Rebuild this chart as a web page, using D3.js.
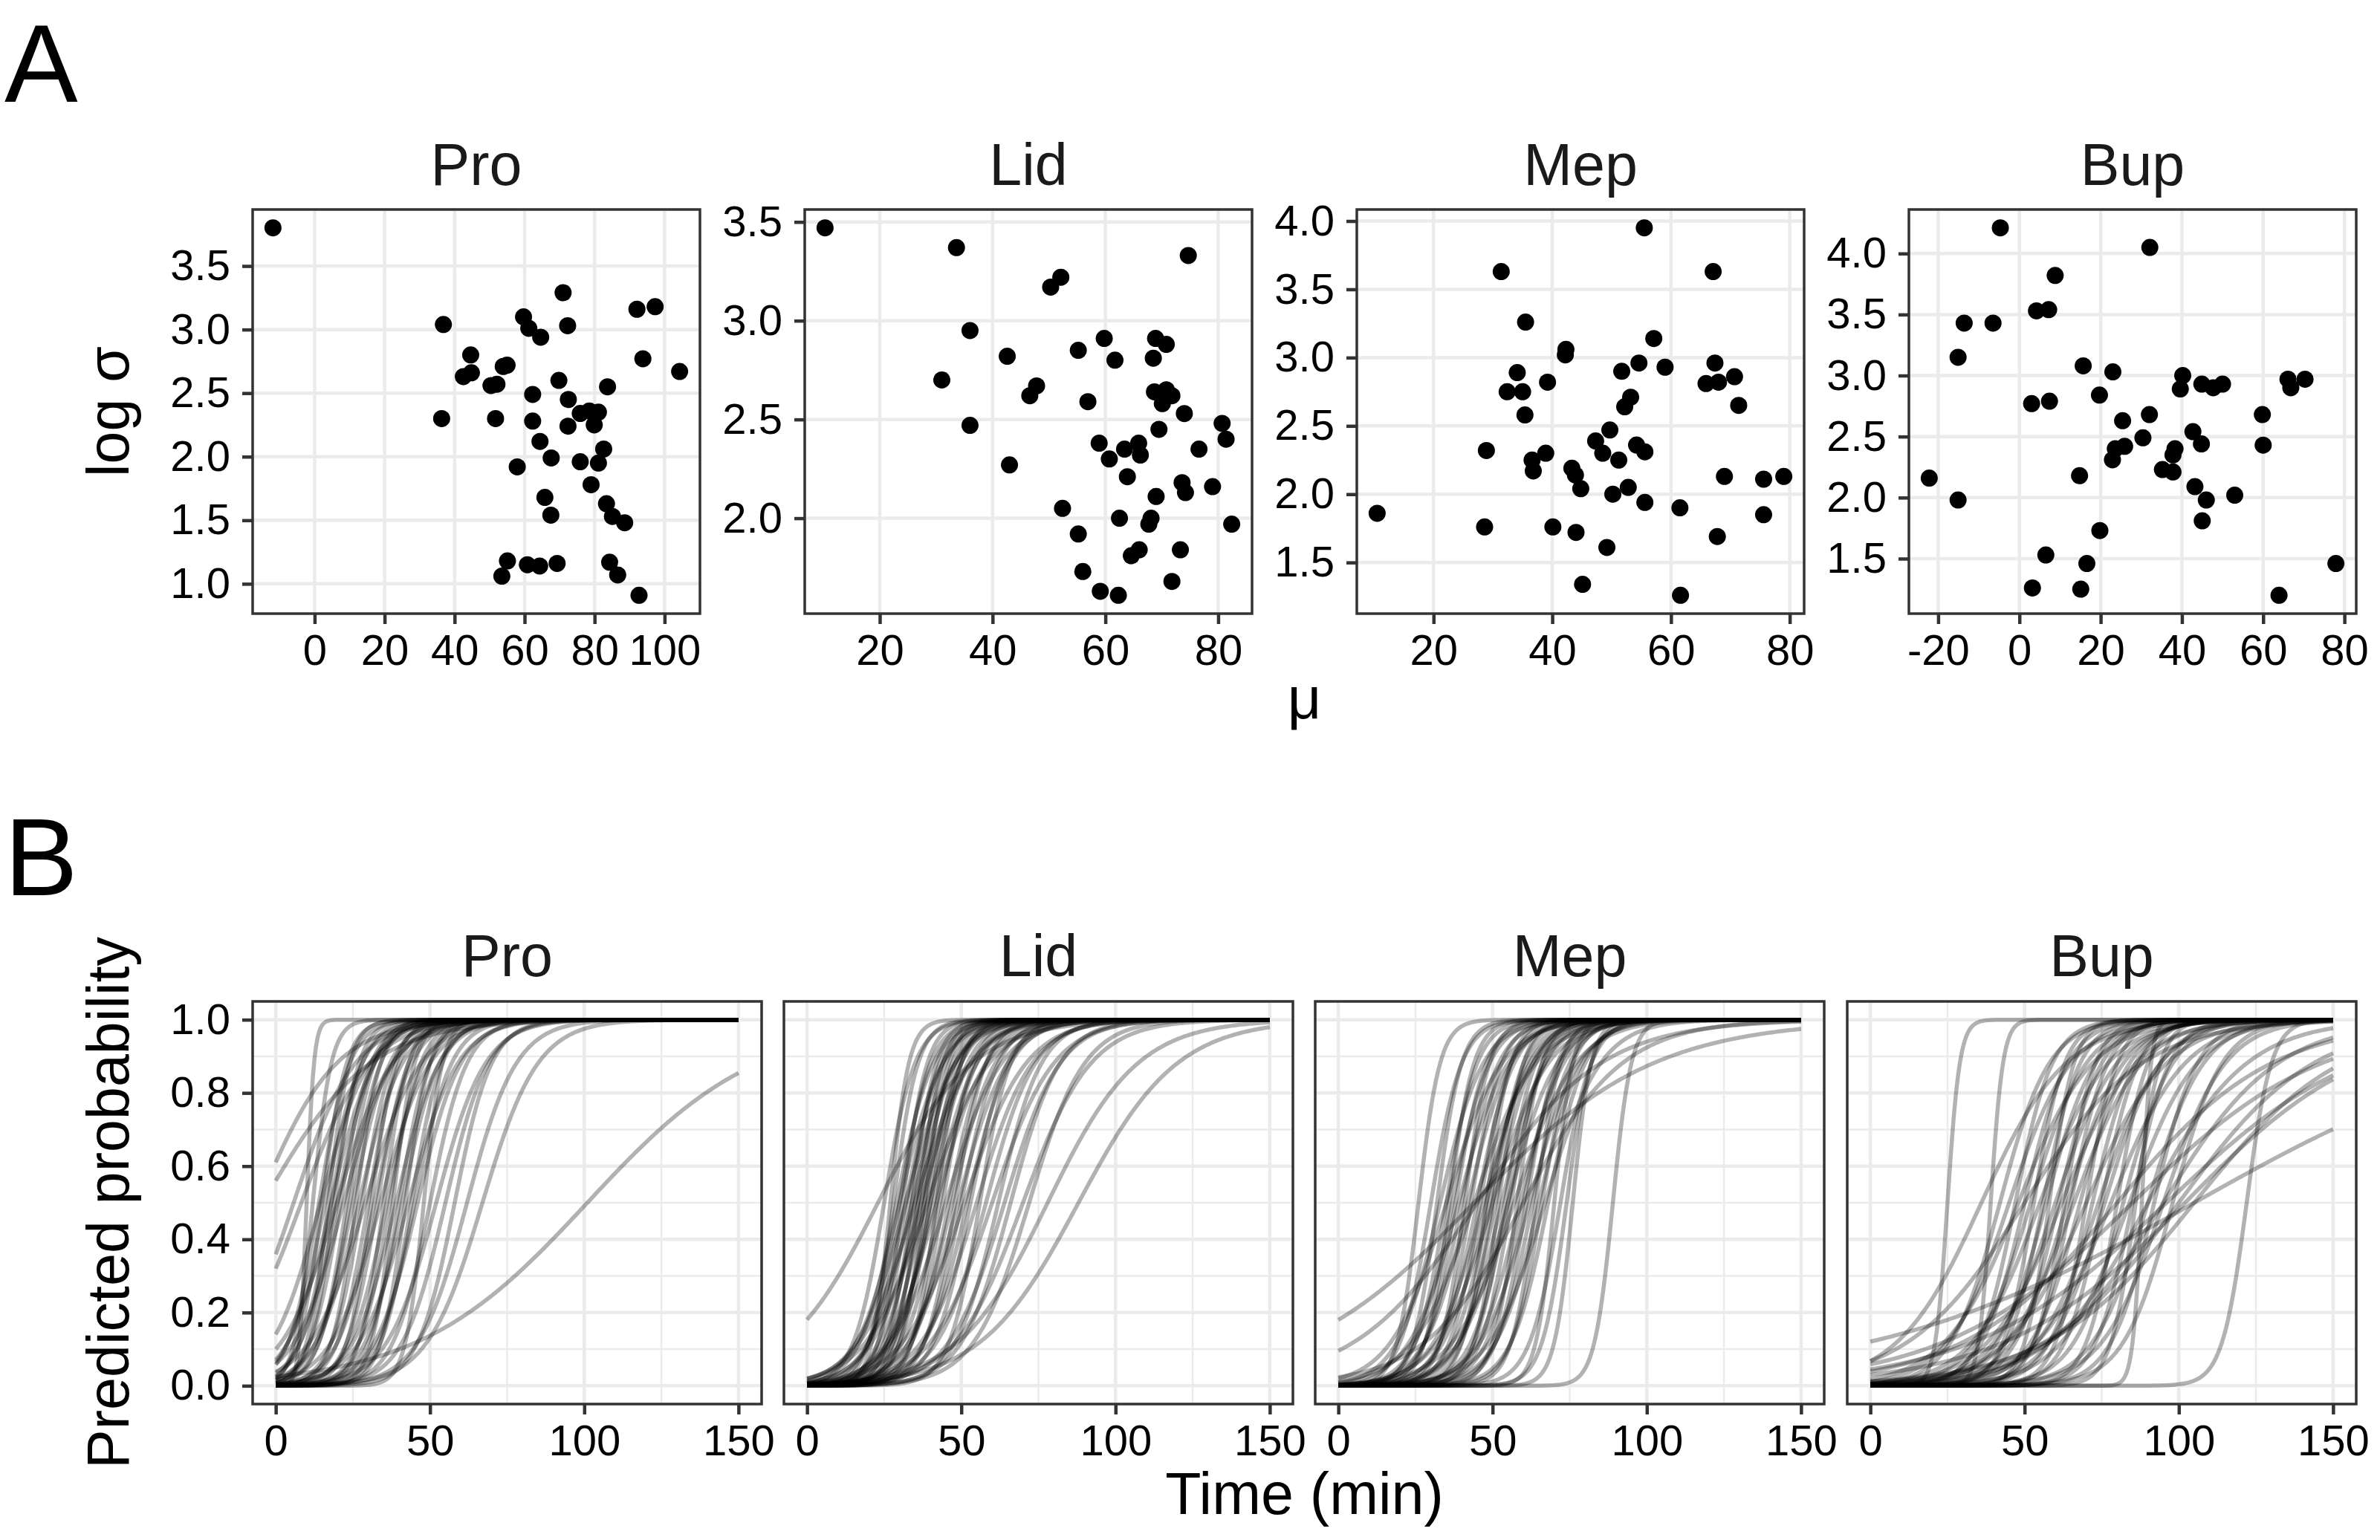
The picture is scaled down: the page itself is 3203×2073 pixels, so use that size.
<!DOCTYPE html>
<html>
<head>
<meta charset="utf-8">
<script src="https://cdn.jsdelivr.net/npm/d3@7"></script>
<style>
  body { margin: 0; background: #fff; }
  svg { display: block; }
</style>
</head>
<body>
<div id="chart"></div>
<script>
// Panel A: per-subject estimates (mu, log sigma)
const proMu = [-11.9,36.8,36.3,44.6,42.5,44.8,50.4,52.1,51.7,53.9,55.0,59.7,61.2,64.6,71.0,72.3,62.3,62.3,69.8,72.5,64.4,67.6,57.9,72.4,75.9,78.5,81.1,79.9,83.7,75.9,81.1,82.6,79.0,65.8,67.5,83.4,85.1,88.6,55.1,53.5,60.8,64.3,69.3,84.3,86.6,92.7,92.1,97.3,93.8,104.3];
const proLogSigma = [3.80,3.04,2.30,2.80,2.63,2.66,2.56,2.57,2.30,2.71,2.72,3.10,3.01,2.94,3.29,3.03,2.49,2.28,2.60,2.45,2.12,1.99,1.92,2.24,2.34,2.36,2.35,2.25,2.55,1.96,1.95,2.06,1.78,1.68,1.54,1.63,1.53,1.48,1.18,1.06,1.15,1.14,1.16,1.17,1.07,0.91,3.16,3.18,2.77,2.67];

const lidMu = [10.3,33.6,50.3,52.1,74.7,36.0,31.0,36.0,42.6,46.6,47.8,43.0,55.2,59.8,61.7,56.9,68.9,70.8,68.5,68.7,70.8,71.8,70.1,74.0,69.5,80.7,81.4,58.9,63.4,65.9,66.2,60.7,76.6,63.9,73.6,74.2,79.0,69.0,52.4,62.5,68.1,67.7,82.4,55.2,66.0,64.6,73.3,56.0,71.8,59.1,62.3];
const lidLogSigma = [3.47,3.37,3.17,3.22,3.33,2.95,2.70,2.47,2.82,2.62,2.67,2.27,2.85,2.91,2.80,2.59,2.91,2.88,2.81,2.64,2.65,2.62,2.58,2.53,2.45,2.48,2.40,2.38,2.35,2.38,2.32,2.30,2.35,2.21,2.18,2.13,2.16,2.11,2.05,2.00,2.00,1.97,1.97,1.92,1.84,1.81,1.84,1.73,1.68,1.63,1.61];

const mepMu = [10.5,31.4,55.5,67.1,35.5,57.1,42.3,42.2,34.1,32.4,35.0,39.2,35.4,51.7,54.6,59.0,67.4,65.9,68.0,70.7,71.4,53.2,52.2,28.9,38.9,36.6,36.8,47.3,49.7,48.5,51.2,54.2,55.6,43.3,43.9,44.8,50.2,52.8,55.6,61.5,69.0,75.6,79.0,75.6,28.6,40.1,44.0,49.2,67.8,45.1,61.6];
const mepLogSigma = [1.86,3.63,3.95,3.63,3.26,3.14,3.06,3.02,2.89,2.75,2.75,2.82,2.58,2.90,2.96,2.93,2.96,2.81,2.82,2.86,2.65,2.71,2.64,2.32,2.30,2.25,2.17,2.39,2.47,2.30,2.25,2.36,2.31,2.19,2.14,2.04,2.00,2.05,1.94,1.90,2.13,2.11,2.13,1.85,1.76,1.76,1.72,1.61,1.69,1.34,1.26];

const bupMu = [-22.2,-15.1,-15.1,-13.6,-6.5,-4.7,32.1,8.8,4.2,7.2,3.0,7.4,15.7,23.0,19.7,25.4,32.0,30.4,23.6,25.9,22.9,40.2,39.6,44.9,47.7,50.0,38.3,37.8,35.2,37.8,42.7,44.8,43.2,46.0,45.0,53.0,59.8,60.0,66.1,66.8,70.3,14.8,19.8,6.5,16.6,3.2,15.1,63.9,77.9];
const bupLogSigma = [2.16,1.98,3.15,3.43,3.43,4.21,4.05,3.82,3.53,3.54,2.77,2.79,3.08,3.03,2.84,2.63,2.68,2.49,2.40,2.42,2.31,3.00,2.89,2.93,2.90,2.93,2.40,2.35,2.23,2.21,2.54,2.44,2.09,1.98,1.81,2.02,2.68,2.43,2.97,2.90,2.97,2.18,1.73,1.53,1.46,1.26,1.25,1.20,1.46];

// Panel B: curve midpoints (min) and widths
const proMid = [-5.7,-4.2,5.8,8.3,14.5,19.8,10,101,12,14,15,16,17,18,18,19,20,21,22,23,24,25,26,27,28,29,30,31,32,33,34,35,36,37,38,39,40,41,42,43,44,45,46,48,50,52,55,58,62,67];
const proScale = [12.7,17.4,10,11,8,9,1.2,27.7,3,5,4,6,3.5,5,7,4,6,5,8,4.5,5,6,4,7,5,9,5,4,6,5,8,4,6,5,3.5,7,5,6,4,8,5,6,7,3,6,8,7,6,8,9];

const lidMid = [23,88,78,27,25,28,29,30,30,31,32,32,33,34,34,35,35,36,36,37,37,38,38,39,39,40,40,41,42,42,43,44,45,46,47,48,49,50,51,52,53,55,56,58,60,62,64,66,70,72];
const lidScale = [15.2,16,14.6,3,5,4,6,5,7,4,6,8,5,4,7,5,9,4,6,5,8,4,6,5,10,6,5,7,4,8,6,5,9,6,7,5,8,6,10,7,6,9,5,8,10,7,9,8,11,9];

const mepMid = [44,60,45,89,26,30,32,33,35,35,36,37,38,39,40,41,42,43,44,45,46,47,48,48,49,50,50,51,52,53,54,55,55,56,57,58,59,60,61,62,63,64,65,66,67,68,70,72,74,76];
const mepScale = [29,16,20,3,3.5,5,4,7,5,9,4,6,5,8,6,4,7,5,10,6,5,8,4,7,6,5,9,6,4,7,5,8,6,5,10,4,7,6,5,8,6,4,7,5,9,6,3,5,4,3];

const bupMid = [25,39,88,122,50,36,90,95,80,100,85,105,96,102,105,42,45,47,48,50,52,53,55,56,57,58,60,61,62,63,64,65,66,68,70,70,72,74,75,76,78,80,82,84,85,86,90,92,95,98];
const bupScale = [2,2,1.5,4,19,13.7,16,18.5,25,21.8,30.6,24,31.4,29.3,52.8,8,10,6,12,7,9,5,11,6,8,4,10,7,12,5,9,6,11,8,5,13,7,10,6,9,12,5,8,11,6,4,9,7,10,8];

// Categories and tick labels
const drugs = ["Pro", "Lid", "Mep", "Bup"];
const muTicks = [-20, 0, 20, 40, 60, 80, 100];
const logSigmaTicks = [1.0, 1.5, 2.0, 2.5, 3.0, 3.5, 4.0];
const timeTicks = [0, 50, 100, 150];
const timeMinor = [25, 75, 125];
const probTicks = [0, 0.2, 0.4, 0.6, 0.8, 1.0];
const probMinor = [0.1, 0.3, 0.5, 0.7, 0.9];

const muData = [proMu, lidMu, mepMu, bupMu];
const sigmaData = [proLogSigma, lidLogSigma, mepLogSigma, bupLogSigma];
const midData = [proMid, lidMid, mepMid, bupMid];
const scaleData = [proScale, lidScale, mepScale, bupScale];

// Layout
const W = 3203, H = 2073;
const FONT = '"Liberation Sans", Arial, Helvetica, sans-serif';
const aTop = 282, aBottom = 826, aWidth = 602;
const aLefts = [340, 1083, 1826, 2569];
const bTop = 1348, bBottom = 1890, bWidth = 685;
const bLefts = [340, 1055, 1770, 2486];

const svg = d3.select("#chart")
    .append("svg")
    .attr("width", W)
    .attr("height", H)
    .style("font-family", FONT);

svg.append("rect").attr("width", W).attr("height", H).attr("fill", "#fff");

// ggplot-style 5% expansion of the data range
function expand(ext) {
    const d = (ext[1] - ext[0]) * 0.05;
    return [ext[0] - d, ext[1] + d];
}

function inDomain(scale, values) {
    const [a, b] = scale.domain();
    return values.filter(v => v >= Math.min(a, b) && v <= Math.max(a, b));
}

function styleAxis(ax) {
    ax.select(".domain").remove();
    ax.selectAll(".tick line").attr("stroke", "#333333").attr("stroke-width", 4.5);
    ax.selectAll(".tick text").attr("fill", "#000").style("font-size", "58px").style("font-family", FONT);
}

// grid, and axes for one facet
function drawFrame(g, x, y, xt, yt, xm, ym, fmtX, fmtY, showY) {
    const [x0, x1] = x.range();
    const [y0, y1] = y.range();
    const grid = g.append("g");
    xm.forEach(v => grid.append("line").attr("x1", x(v)).attr("x2", x(v)).attr("y1", y0).attr("y2", y1)
        .attr("stroke", "#ebebeb").attr("stroke-width", 2.5));
    ym.forEach(v => grid.append("line").attr("x1", x0).attr("x2", x1).attr("y1", y(v)).attr("y2", y(v))
        .attr("stroke", "#ebebeb").attr("stroke-width", 2.5));
    xt.forEach(v => grid.append("line").attr("x1", x(v)).attr("x2", x(v)).attr("y1", y0).attr("y2", y1)
        .attr("stroke", "#ebebeb").attr("stroke-width", 4.5));
    yt.forEach(v => grid.append("line").attr("x1", x0).attr("x2", x1).attr("y1", y(v)).attr("y2", y(v))
        .attr("stroke", "#ebebeb").attr("stroke-width", 4.5));

    styleAxis(g.append("g")
        .attr("transform", `translate(0,${y0})`)
        .call(d3.axisBottom(x).tickValues(xt).tickSize(14).tickPadding(14).tickFormat(fmtX)));
    if (showY) {
        styleAxis(g.append("g")
            .attr("transform", `translate(${x0},0)`)
            .call(d3.axisLeft(y).tickValues(yt).tickSize(14).tickPadding(16).tickFormat(fmtY)));
    }
}

function border(g, x, y) {
    const [x0, x1] = x.range();
    const [y0, y1] = y.range();
    g.append("rect")
        .attr("x", x0).attr("y", y1)
        .attr("width", x1 - x0).attr("height", y0 - y1)
        .attr("fill", "none").attr("stroke", "#333333").attr("stroke-width", 3.5);
}

const fmtInt = d => String(d);
const fmt1 = d => d.toFixed(1);

// Panel A: scatter facets with free scales
drugs.forEach((drug, i) => {
    const mu = muData[i], ls = sigmaData[i];
    const x = d3.scaleLinear().domain(expand(d3.extent(mu))).range([aLefts[i], aLefts[i] + aWidth]);
    const y = d3.scaleLinear().domain(expand(d3.extent(ls))).range([aBottom, aTop]);
    const g = svg.append("g");
    drawFrame(g, x, y, inDomain(x, muTicks), inDomain(y, logSigmaTicks), [], [], fmtInt, fmt1, true);

    g.append("g").selectAll("circle")
        .data(mu.map((m, k) => ({ mu: m, ls: ls[k] })))
        .enter().append("circle")
        .attr("cx", d => x(d.mu))
        .attr("cy", d => y(d.ls))
        .attr("r", 11.5)
        .attr("fill", "#000");

    border(g, x, y);

    svg.append("text")
        .attr("x", aLefts[i] + aWidth / 2)
        .attr("y", 249)
        .attr("text-anchor", "middle")
        .attr("fill", "#1a1a1a")
        .style("font-size", "79px")
        .text(drug);
});

// Panel B: predicted probability curves, shared y axis
const times = d3.range(0, 150.001, 0.5);
drugs.forEach((drug, i) => {
    const x = d3.scaleLinear().domain(expand([0, 150])).range([bLefts[i], bLefts[i] + bWidth]);
    const y = d3.scaleLinear().domain(expand([0, 1])).range([bBottom, bTop]);
    const g = svg.append("g");
    drawFrame(g, x, y, timeTicks, probTicks, timeMinor, probMinor, fmtInt, fmt1, i === 0);

    const line = d3.line().x(d => x(d.t)).y(d => y(d.p));
    const curves = midData[i].map((m, k) => {
        const s = scaleData[i][k];
        return times.map(t => ({ t: t, p: 1 / (1 + Math.exp(-(t - m) / s)) }));
    });
    g.append("g").selectAll("path")
        .data(curves)
        .enter().append("path")
        .attr("d", line)
        .attr("fill", "none")
        .attr("stroke", "#000")
        .attr("stroke-opacity", 0.3)
        .attr("stroke-width", 5.5);

    border(g, x, y);

    svg.append("text")
        .attr("x", bLefts[i] + bWidth / 2)
        .attr("y", 1314)
        .attr("text-anchor", "middle")
        .attr("fill", "#1a1a1a")
        .style("font-size", "79px")
        .text(drug);
});

// Axis titles and panel letters
svg.append("text")
    .attr("transform", `translate(173,${(aTop + aBottom) / 2}) rotate(-90)`)
    .attr("text-anchor", "middle").attr("fill", "#000").style("font-size", "79px")
    .text("log σ");
svg.append("text")
    .attr("x", (aLefts[0] + aLefts[3] + aWidth) / 2).attr("y", 967)
    .attr("text-anchor", "middle").attr("fill", "#000").style("font-size", "79px")
    .text("μ");
svg.append("text")
    .attr("transform", `translate(173,${(bTop + bBottom) / 2}) rotate(-90)`)
    .attr("text-anchor", "middle").attr("fill", "#000").style("font-size", "79px")
    .text("Predicted probability");
svg.append("text")
    .attr("x", (bLefts[0] + bLefts[3] + bWidth) / 2).attr("y", 2038)
    .attr("text-anchor", "middle").attr("fill", "#000").style("font-size", "79px")
    .text("Time (min)");

svg.append("text").attr("x", 6).attr("y", 137).attr("fill", "#000").style("font-size", "148px").text("A");
svg.append("text").attr("x", 6).attr("y", 1205).attr("fill", "#000").style("font-size", "148px").text("B");
</script>
</body>
</html>
